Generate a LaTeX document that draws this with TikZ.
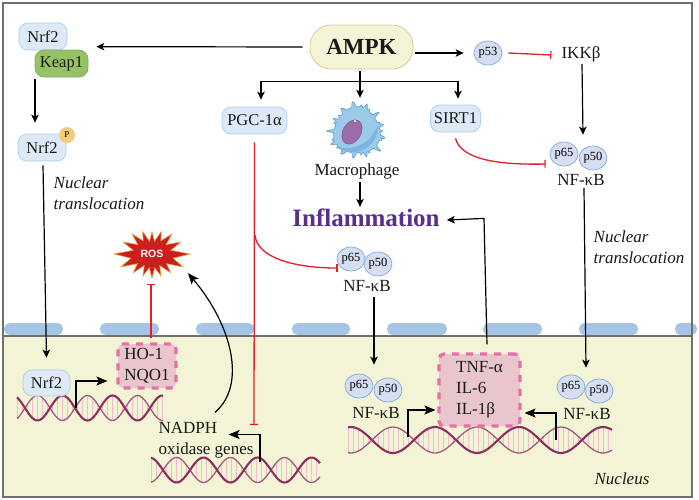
\documentclass[tikz,border=0pt]{standalone}
\usepackage{fontspec}
\setmainfont{Liberation Serif}
\newfontfamily\rosfont{Liberation Sans}
\usetikzlibrary{arrows.meta,shapes.geometric,calc}
\definecolor{nucleusbg}{HTML}{F3F3D5}
\definecolor{padblue}{HTML}{A6C5E4}
\definecolor{framegray}{HTML}{707070}
\definecolor{pillfill}{HTML}{DDE9F6}
\definecolor{pillline}{HTML}{A6D2F0}
\definecolor{keapfill}{HTML}{94C264}
\definecolor{keapline}{HTML}{7FAE6E}
\definecolor{ampkline}{HTML}{DCCB9C}
\definecolor{subfill}{HTML}{D6DFF2}
\definecolor{subline}{HTML}{7FA8DC}
\definecolor{inhibit}{HTML}{E0202A}
\definecolor{dnadark}{HTML}{8C2F60}
\definecolor{dnarung}{HTML}{EDBFCD}
\definecolor{purpletext}{HTML}{5A2D8E}
\definecolor{genefill}{HTML}{E8C6CC}
\definecolor{genedash}{HTML}{E56FA6}
\definecolor{rosred}{HTML}{C9201F}
\definecolor{rosedge}{HTML}{E5A53A}
\definecolor{pdot}{HTML}{F5CC7A}
\definecolor{cellfill}{HTML}{9CCBEA}
\definecolor{celledge}{HTML}{5FA3D4}
\definecolor{cellin}{HTML}{7DB4E0}
\definecolor{nucfill}{HTML}{9A6CA8}
\tikzset{
  txt/.style={font=\fontsize{17}{19}\selectfont,inner sep=0pt,text=black!90},
  pill/.style={inner sep=0pt,text=black!90,font=\fontsize{16.5}{18}\selectfont,draw=pillline,fill=pillfill,rounded corners=9pt,line width=.7pt},
  sub/.style={ellipse,draw=subline,fill=subfill,line width=.7pt,inner sep=0pt,
    minimum width=28pt,minimum height=24pt,font=\fontsize{12.5}{13}\selectfont},
  geneset/.style={inner sep=0pt,text=black!90,align=left,fill=genefill,draw=genedash,
    line width=3.2pt,dash pattern=on 7pt off 7pt,rounded corners=5pt,
    font=\fontsize{17}{21}\selectfont},
  arr/.style={draw=black,line width=1.2pt,-{Stealth[length=8pt,width=7.5pt,inset=2pt]}},
  genearr/.style={draw=black,line width=1.2pt,-{Stealth[length=11pt,width=9pt,inset=2.5pt]}},
  plain/.style={draw=black,line width=1.2pt},
  tbar/.style={draw=inhibit,line width=1.3pt,-{Bar[width=8pt,line width=1.2pt]}},
  note/.style={inner sep=0pt,align=left,text=black!90,font=\fontsize{17}{21}\selectfont\itshape},
}
% Double helix: start x, end x, centre y, amplitude, half period, x of one crossing
\newcommand{\helix}[6]{%
  \pgfmathsetmacro{\nextrung}{#1+5}%
  \foreach \rx in {#1,\nextrung,...,#2}{%
    \pgfmathsetmacro{\ry}{#4*sin((\rx-#6)/#5*180)}%
    \draw[dnarung,line width=1pt] (\rx,#3+\ry) -- (\rx,#3-\ry);}%
  \draw[dnadark!80,line width=1.3pt,variable=\t,domain=#1:#2,samples=90,smooth]
    plot (\t,{#3-#4*sin((\t-#6)/#5*180)});%
  \draw[dnadark,line width=2.1pt,variable=\t,domain=#1:#2,samples=90,smooth]
    plot (\t,{#3+#4*sin((\t-#6)/#5*180)});%
}
\begin{document}
\begin{tikzpicture}[x=1pt,y=-1pt]
\useasboundingbox (0,0) rectangle (699,499);
\fill[white] (0,0) rectangle (699,499);

% nucleus and nuclear envelope
\fill[nucleusbg] (3,336) rectangle (692,497);
\foreach \a/\b in {4/63,100/159,196/254,292/350,387/447,483/542,579/638,675/697}
  \fill[padblue,rounded corners=5.5pt] (\a,323) rectangle (\b,335);
\draw[framegray,line width=2pt] (3,336) -- (692,336);
\draw[framegray,line width=2.4pt] (3,3) rectangle (692,497);

% helices
\helix{17}{163}{408}{12.5}{25}{25}
\helix{151}{320}{470}{12.5}{27}{163}
\helix{348}{612}{440}{13}{42}{372}

% upper compartment
\node[txt,draw=ampkline,fill=nucleusbg,rounded corners=21pt,line width=.8pt,
  minimum width=103pt,minimum height=44pt,font=\fontsize{23}{24}\selectfont\bfseries] (ampk) at (361.5,47) {AMPK};
\node[pill,minimum width=48pt,minimum height=27pt] (nrfa) at (43,36.5) {Nrf2};
\node[pill,draw=keapline,fill=keapfill,minimum width=53pt,minimum height=27pt] (keap) at (61.5,63.5) {Keap1};
\node[pill,minimum width=48pt,minimum height=27pt] (nrfb) at (42,147.5) {Nrf2};
\node[circle,fill=pdot,minimum size=16pt,inner sep=0pt,font=\fontsize{9}{10}\selectfont] (pho) at (67,135) {P};
\node[note] (noteleft) at (99,193.5) {Nuclear\\translocation};
\node[pill,minimum width=65pt,minimum height=27pt] (pgc) at (254.5,120.5) {PGC-1α};
\node[pill,minimum width=50pt,minimum height=27pt] (sirt) at (455.5,118.5) {SIRT1};
\node[sub] (ptf) at (488,53) {p53};
\node[txt] (ikk) at (581,54) {IKKβ};
\node[sub] (rela) at (564,154) {p65};
\node[sub] (pa) at (593,158) {p50};
\node[txt] (nfa) at (581,180) {NF-κB};
\node[note] (noteright) at (639,247.5) {Nuclear\\translocation};

% macrophage
\node[minimum size=44pt,inner sep=0pt] (cell) at (357,131) {};
\begin{scope}[shift={(cell.center)}]
\fill[cellfill,draw=celledge,line width=.7pt,variable=\t,domain=0:360,samples=260]
  plot (\t:{23+1.2*sin(3*\t)+5*abs(sin(6.5*\t))^16+2.5*abs(cos(9*\t))^20}) -- cycle;
\fill[cellin] (21,-6) .. controls (21,19) and (-5,27) .. (-19,17)
  .. controls (3,19) and (15,9) .. cycle;
\fill[nucfill,draw=nucfill!80!black,line width=.5pt,rotate around={60:(-5,1)}] (-5,1) ellipse[x radius=13pt,y radius=9pt];
\fill[white] (-2,-10) circle[radius=1.2pt];
\end{scope}

\node[txt] (macro) at (357,171) {Macrophage};
\node[inner sep=0pt,text=purpletext,font=\fontsize{25}{26}\selectfont\bfseries] (infl) at (366,218) {Inflammation};
\node[sub] (relb) at (351,259) {p65};
\node[sub] (pb) at (378,264) {p50};
\node[txt] (nfb) at (367,286) {NF-κB};

% ROS burst
\node[minimum width=70pt,minimum height=40pt,inner sep=0pt] (ros) at (152,254) {};
\begin{scope}[shift={(ros.center)}]
\draw[fill=rosred,draw=rosedge,line width=.6pt,variable=\t,domain=0:348.75,samples=32]
  plot (\t:{(38-15*abs(sin(\t)))*(.79+.21*cos(16*\t)+.04*sin(5*\t))}) -- cycle;
\end{scope}
\node[text=white,inner sep=0pt,font=\rosfont\bfseries\fontsize{10.5}{11}\selectfont] (roslabel) at (ros.center) {ROS};

% nuclear content
\node[geneset,minimum width=58pt,minimum height=44pt] (hoa) at (147,366) {HO-1\\NQO1};
\node[pill,minimum width=47pt,minimum height=26pt] (nrfc) at (46.5,383) {Nrf2};
\node[txt,align=left,font=\fontsize{17}{21}\selectfont] (nadph) at (206,440.5) {NADPH\\oxidase genes};
\node[geneset,minimum width=81pt,minimum height=72pt] (tnf) at (479.5,390) {TNF-α\\IL-6\\IL-1β};
\node[sub] (relc) at (359,386) {p65};
\node[sub] (pc) at (388,390) {p50};
\node[txt] (nfc) at (376,413) {NF-κB};
\node[sub] (reld) at (571,387) {p65};
\node[sub] (pd) at (599,391) {p50};
\node[txt] (nfd) at (587,414) {NF-κB};
\node[inner sep=0pt,text=black!90,font=\fontsize{17}{19}\selectfont\itshape] (nucleuslabel) at (622,479) {Nucleus};

% free connector ends on the helices and branch points
\coordinate (hub) at (360,81.5);
\coordinate (startleft) at (76,408);
\coordinate (startnox) at (260,462);
\coordinate (startb) at (408,437);
\coordinate (startc) at (556,440);
\coordinate (noxbar) at (254,425);
\coordinate (pgcfork) at (255,235);

% activating arrows
\draw[arr,shorten <=7pt] (ampk.west) -- ([xshift=8pt,yshift=3pt]keap.north east);
\draw[arr] ([xshift=-26.5pt,yshift=-2pt]keap.south) -- ([xshift=-7pt,yshift=11pt]nrfb.north);
\draw[arr] ([xshift=1pt,yshift=-4pt]nrfb.south) -- ([yshift=12pt]nrfc.north);
\draw[arr] ([xshift=2pt,yshift=-6pt]ampk.east) -- ([xshift=-10pt]ptf.west);
\draw[arr] ([xshift=1pt,yshift=-2pt]ikk.south) -- ([xshift=19pt,yshift=7pt]rela.north);
\draw[plain] ([xshift=-1.5pt,yshift=-2pt]ampk.south) -- (hub);
\draw[arr] (hub) -- ([xshift=3pt,yshift=11pt]cell.north);
\draw[arr] (hub) -| ([xshift=6.5pt,yshift=7pt]pgc.north);
\draw[arr] (hub) -| ([xshift=2.5pt,yshift=6pt]sirt.north);
\draw[arr] ([xshift=3pt,yshift=-3pt]macro.south) -- ([xshift=-6pt,yshift=2pt]infl.north);
\draw[arr] ([xshift=7pt,yshift=-5pt]nfb.south) -- ([xshift=15pt,yshift=9pt]relc.north);
\draw[arr] ([xshift=3pt,yshift=-2pt]nfa.south) -- ([xshift=15pt,yshift=7pt]reld.north);
\draw[arr] ([xshift=7.5pt,yshift=8pt]tnf.north) -- ++(-3,-126) -- ([xshift=7pt,yshift=-2pt]infl.east);
\draw[genearr] (startleft) |- ([xshift=-9pt,yshift=-15pt]hoa.west);
\draw[genearr] (startnox) |- ([xshift=-25pt,yshift=6pt]nadph.east);
\draw[genearr] (startb) |- ([xshift=-2pt,yshift=-20pt]tnf.west);
\draw[genearr] (startc) |- ([xshift=3pt,yshift=-23pt]tnf.east);
\draw[genearr] ([xshift=9pt,yshift=10pt]nadph.north) .. controls (247,385) and (232,325) .. ([xshift=36pt,yshift=1pt]ros.south);

% inhibitory links
\draw[tbar] ([xshift=4pt,yshift=4pt]hoa.north) -- ([xshift=-1pt,yshift=-10pt]ros.south);
\draw[tbar] ([yshift=-8pt]pgc.south) -- (noxbar);
\draw[tbar] ([xshift=6pt]ptf.east) -- ([xshift=-10pt,yshift=-1pt]ikk.west);
\draw[tbar] ([yshift=-6pt]sirt.south) .. controls (461,160) and (500,165) .. ([xshift=-4pt,yshift=-10pt]rela.west);
\draw[tbar] (pgcfork) .. controls (257,258) and (295,268) .. ([xshift=1pt,yshift=-9pt]relb.west);
\end{tikzpicture}
\end{document}
